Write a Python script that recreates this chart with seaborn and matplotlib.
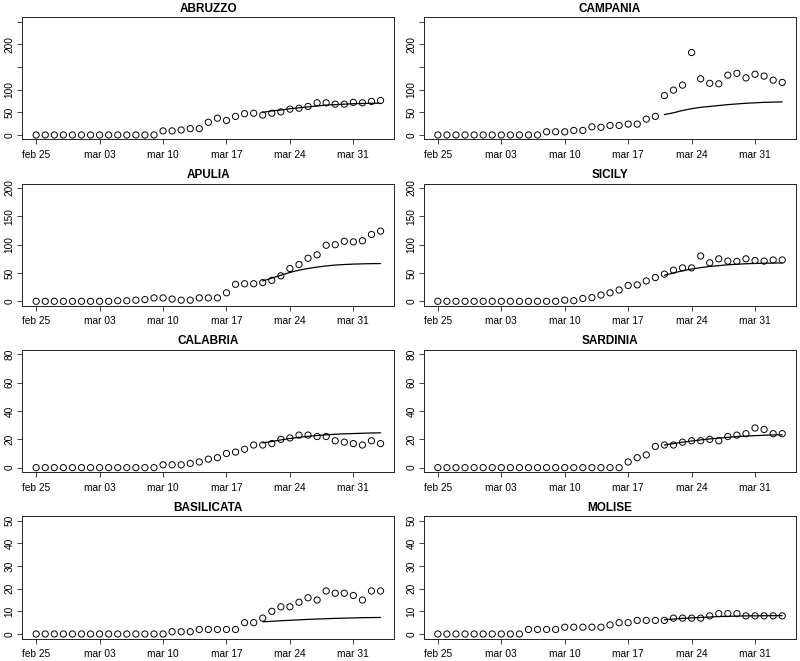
import numpy as np
import pandas as pd
import matplotlib
matplotlib.use("Agg")
import matplotlib.pyplot as plt
import seaborn as sns

# Daily dates, feb 25 -> apr 3 (2020)
dates = pd.date_range("2020-02-25", "2020-04-03", freq="D")
fit_dates = pd.date_range("2020-03-21", "2020-04-03", freq="D")

regions = ["ABRUZZO", "CAMPANIA", "APULIA", "SICILY",
           "CALABRIA", "SARDINIA", "BASILICATA", "MOLISE"]

abruzzo = [0] * 14 + [9, 9, 11, 14, 14, 28, 37, 32, 41, 47, 48, 44, 48, 51,
                      57, 59, 63, 71, 71, 68, 68, 72, 71, 74, 76]
campania = [0] * 12 + [7, 7, 7, 10, 10, 18, 17, 21, 21, 24, 24, 35, 41, 87, 99,
                       110, 182, 124, 114, 113, 132, 136, 126, 134, 130, 121, 116]
apulia = [0] * 9 + [1, 1, 2, 3, 6, 6, 4, 2, 2, 6, 6, 6, 15, 30, 31, 31, 33, 37,
                    45, 58, 65, 76, 82, 99, 100, 106, 105, 107, 118, 124]
sicily = [0] * 14 + [2, 1, 5, 6.5, 11, 15, 20, 28, 29, 36, 42, 48, 55, 59, 59,
                     80, 68, 75, 71, 70.5, 75, 72, 71, 73, 73]
calabria = [0] * 14 + [2, 2, 2, 3, 4, 6, 7, 10, 11, 13, 16, 16, 17, 20, 21,
                       23, 23, 22, 22, 19, 18, 17, 16, 19, 17]
sardinia = [0] * 21 + [4, 7, 9, 15, 16, 16, 18, 19, 19, 20, 19, 22, 23, 24,
                       28, 27, 24, 24]
basilicata = [0] * 15 + [1, 1, 1, 2, 2, 2, 2, 2, 5, 5, 7, 10, 12, 12, 14, 16,
                         15, 19, 18, 18, 17, 15, 19, 19]
molise = [0] * 10 + [2, 2, 2, 2, 3, 3, 3, 3, 3, 4, 5, 5, 6, 6, 6, 6, 7, 7, 7,
                     7, 8, 9, 9, 9, 8, 8, 8, 8, 8]

# fitted curves, mar 21 -> apr 3
abruzzo_fit = [50, 53, 55, 58, 60, 62, 64, 66, 67, 68, 69, 69.5, 70, 70]
campania_fit = [45, 49, 54, 58, 61, 63, 65, 67, 68.5, 70, 71, 72, 72.5, 73]
apulia_fit = [36, 41, 46, 51, 55, 58, 60.5, 62.5, 64, 65, 65.7, 66.2, 66.5, 66.7]
sicily_fit = [46, 50, 54, 57, 59.5, 61.5, 63, 64.5, 65.5, 66.3, 66.9, 67.3, 67.6, 67.8]
calabria_fit = [17.5, 18.5, 19.6, 20.6, 21.4, 22.1, 22.7, 23.2, 23.6, 23.9,
                24.1, 24.3, 24.5, 24.6]
sardinia_fit = [16, 17, 18, 18.8, 19.6, 20.3, 20.9, 21.4, 21.9, 22.3, 22.6,
                22.9, 23.1, 23.2]
basilicata_fit = [5.4, 5.6, 5.85, 6.05, 6.25, 6.45, 6.6, 6.75, 6.9, 7.0, 7.1,
                  7.2, 7.25, 7.3]
molise_fit = [6.3, 6.6, 6.9, 7.1, 7.3, 7.5, 7.7, 7.8, 7.9, 8.0, 8.0, 8.05, 8.1, 8.1]

observed = [abruzzo, campania, apulia, sicily, calabria, sardinia, basilicata, molise]
fitted = [abruzzo_fit, campania_fit, apulia_fit, sicily_fit,
          calabria_fit, sardinia_fit, basilicata_fit, molise_fit]

# y axis per row: (limit, tick step, hidden tick labels)
row_axes = [(250, 50, [150, 250]), (200, 50, []), (80, 20, []), (50, 10, [])]

xtick_dates = pd.to_datetime(["2020-02-25", "2020-03-03", "2020-03-10",
                              "2020-03-17", "2020-03-24", "2020-03-31"])
xtick_labels = ["feb 25", "mar 03", "mar 10", "mar 17", "mar 24", "mar 31"]

sns.set_style("ticks")
plt.rcParams["font.family"] = ["Liberation Sans", "DejaVu Sans"]
plt.rcParams["text.color"] = "black"

fig, axes = plt.subplots(4, 2, figsize=(8, 6.61), dpi=100)
fig.subplots_adjust(left=0.028, right=0.995, top=0.974, bottom=0.034,
                    wspace=0.08, hspace=0.36)

span = dates[-1] - dates[0]
for i, ax in enumerate(axes.flat):
    obs = pd.DataFrame({"date": dates, "value": observed[i]})
    fit = pd.DataFrame({"date": fit_dates, "value": fitted[i]})
    sns.scatterplot(data=obs, x="date", y="value", ax=ax, marker="o", s=20,
                    facecolors="none", edgecolor="black", linewidth=0.7)
    sns.lineplot(data=fit, x="date", y="value", ax=ax, color="black", linewidth=0.9)

    top, step, hidden = row_axes[i // 2]
    pad = top * 0.04
    ax.set_ylim(-pad, top + pad)
    yt = np.arange(0, top + 1, step)
    ax.set_yticks(yt)
    ax.set_yticklabels(["" if v in hidden else str(int(v)) for v in yt],
                       rotation=90, va="center")
    ax.set_xlim(dates[0] - span * 0.04, dates[-1] + span * 0.04)
    ax.set_xticks(xtick_dates)
    ax.set_xticklabels(xtick_labels)
    ax.set_xlabel("")
    ax.set_ylabel("")
    ax.set_title(regions[i], fontsize=8.5, fontweight="bold", pad=4, color="black")
    ax.tick_params(labelsize=7.3, length=3.5, width=0.6, color="#222222",
                   labelcolor="black")
    ax.tick_params(axis="x", pad=4)
    ax.tick_params(axis="y", pad=2)
    for sp in ax.spines.values():
        sp.set_visible(True)
        sp.set_linewidth(0.7)
        sp.set_color("#222222")

fig.savefig("out.png", dpi=100)
